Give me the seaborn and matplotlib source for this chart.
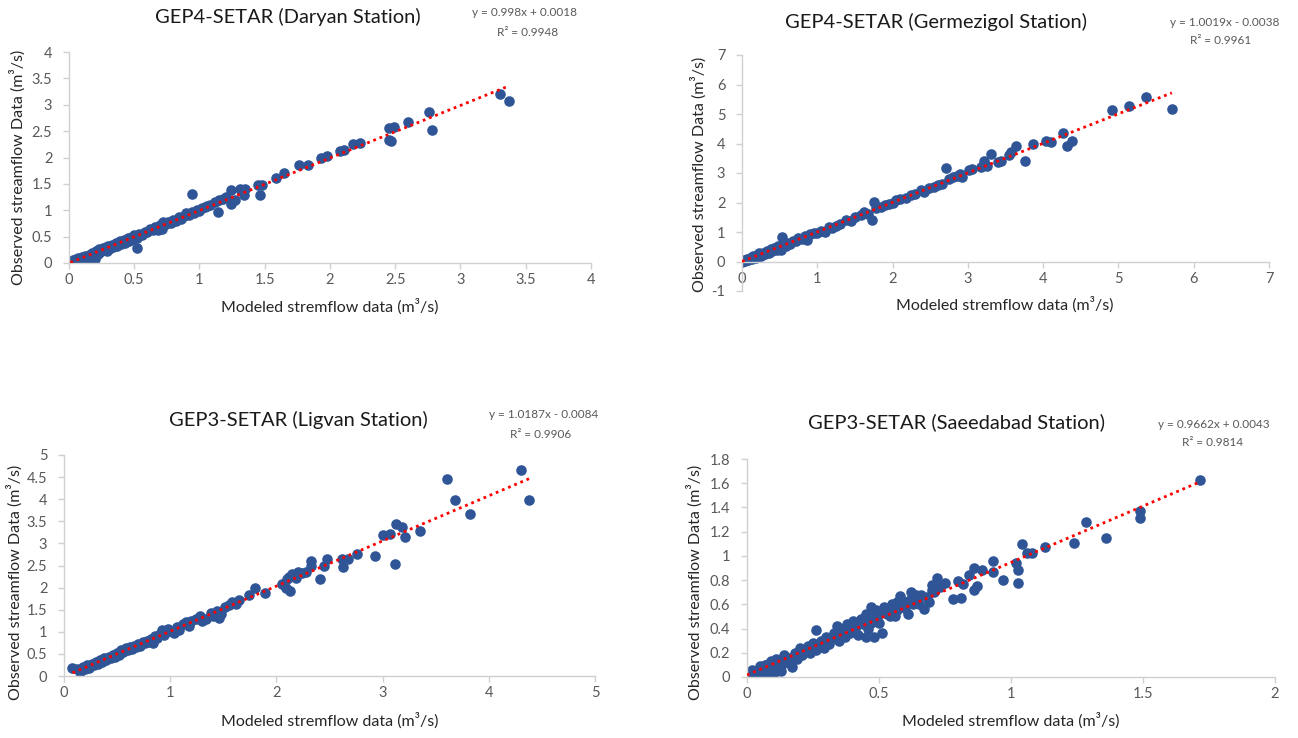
import pandas as pd
import matplotlib.pyplot as plt
import seaborn as sns
from matplotlib.ticker import FuncFormatter

daryan_modeled = [
    0.01, 0.02, 0.03, 0.04, 0.05, 0.06, 0.07, 0.08, 0.10, 0.11,
    0.12, 0.13, 0.15, 0.16, 0.17, 0.18, 0.19, 0.20, 0.21, 0.22,
    0.23, 0.24, 0.26, 0.27, 0.28, 0.29, 0.30, 0.31, 0.33, 0.34,
    0.36, 0.37, 0.39, 0.40, 0.42, 0.43, 0.45, 0.46, 0.48, 0.49,
    0.50, 0.52, 0.54, 0.56, 0.58, 0.60, 0.62, 0.64, 0.66, 0.68,
    0.70, 0.71, 0.72, 0.74, 0.76, 0.78, 0.80, 0.82, 0.84, 0.86,
    0.88, 0.90, 0.92, 0.94, 0.96, 0.98, 1.00, 1.02, 1.04, 1.06,
    1.08, 1.12, 1.15, 1.18, 1.20,
    0.52, 0.94, 1.14, 1.24, 1.24, 1.27, 1.31, 1.34, 1.35, 1.45,
    1.46, 1.48, 1.59, 1.65, 1.76, 1.83, 1.93, 1.98, 2.08, 2.11,
    2.18, 2.23, 2.45, 2.47, 2.45, 2.49, 2.60, 2.76, 2.78, 3.30,
    3.37]
daryan_observed = [
    0.02, 0.00, 0.05, 0.02, 0.08, 0.04, 0.10, 0.06, 0.12, 0.08,
    0.14, 0.10, 0.16, 0.12, 0.03, 0.19, 0.15, 0.08, 0.22, 0.18,
    0.26, 0.20, 0.28, 0.24, 0.30, 0.22, 0.33, 0.27, 0.34, 0.31,
    0.37, 0.33, 0.41, 0.36, 0.43, 0.38, 0.47, 0.42, 0.50, 0.45,
    0.53, 0.48, 0.55, 0.53, 0.59, 0.58, 0.64, 0.62, 0.68, 0.63,
    0.72, 0.64, 0.77, 0.74, 0.78, 0.76, 0.82, 0.80, 0.87, 0.84,
    0.90, 0.94, 0.91, 0.96, 0.95, 1.00, 0.98, 1.04, 1.06, 1.08,
    1.10, 1.15, 1.20, 1.22, 1.25,
    0.29, 1.30, 0.97, 1.38, 1.11, 1.20, 1.41, 1.28, 1.40, 1.48,
    1.29, 1.47, 1.62, 1.71, 1.86, 1.86, 2.00, 2.02, 2.12, 2.15,
    2.26, 2.28, 2.55, 2.31, 2.33, 2.57, 2.67, 2.87, 2.53, 3.20,
    3.08]

germezigol_modeled = [
    0.00, 0.02, 0.04, 0.06, 0.08, 0.10, 0.13, 0.15, 0.18, 0.20,
    0.23, 0.25, 0.28, 0.30, 0.33, 0.36, 0.38, 0.40, 0.43, 0.46,
    0.48, 0.50, 0.52, 0.55, 0.58, 0.60, 0.64, 0.68, 0.72, 0.75,
    0.80, 0.84, 0.86, 0.90, 0.95, 1.00, 1.05, 1.10, 1.15, 1.20,
    1.25, 1.30, 1.38, 1.45, 1.50, 1.58, 1.62, 1.68, 1.78, 1.85,
    1.90, 1.95, 2.00, 2.05, 2.10, 2.18, 2.25, 2.30, 2.38, 2.42,
    2.48, 2.55, 2.60, 2.65,
    0.53, 1.73, 1.75, 2.71, 2.75, 2.80, 2.85, 2.90, 2.92, 3.01,
    3.05, 3.18, 3.22, 3.25, 3.31, 3.40, 3.44, 3.55, 3.57, 3.64,
    3.76, 3.87, 4.04, 4.10, 4.27, 4.32, 4.38, 4.92, 5.14, 5.36,
    5.71]
germezigol_observed = [
    0.00, 0.05, 0.02, 0.09, 0.04, 0.12, 0.08, 0.18, 0.13, 0.22,
    0.28, 0.20, 0.30, 0.25, 0.35, 0.30, 0.42, 0.36, 0.45, 0.40,
    0.52, 0.45, 0.38, 0.57, 0.52, 0.64, 0.60, 0.70, 0.68, 0.78,
    0.76, 0.88, 0.72, 0.92, 0.98, 0.96, 1.05, 1.00, 1.18, 1.15,
    1.22, 1.28, 1.40, 1.38, 1.52, 1.58, 1.68, 1.62, 1.80, 1.84,
    1.92, 1.96, 1.98, 2.08, 2.12, 2.15, 2.24, 2.30, 2.42, 2.34,
    2.50, 2.52, 2.58, 2.62,
    0.84, 1.39, 2.03, 3.18, 2.78, 2.85, 2.90, 2.95, 2.85, 3.10,
    3.12, 3.20, 3.40, 3.25, 3.65, 3.36, 3.42, 3.62, 3.70, 3.90,
    3.39, 4.00, 4.10, 4.05, 4.35, 3.90, 4.10, 5.12, 5.26, 5.59,
    5.16]

ligvan_modeled = [
    0.08, 0.12, 0.15, 0.18, 0.20, 0.22, 0.24, 0.26, 0.28, 0.30,
    0.32, 0.34, 0.36, 0.38, 0.40, 0.42, 0.44, 0.46, 0.48, 0.50,
    0.52, 0.54, 0.56, 0.58, 0.60, 0.62, 0.64, 0.66, 0.68, 0.70,
    0.72, 0.74, 0.76, 0.78, 0.80, 0.82, 0.84, 0.86, 0.88, 0.90,
    0.92, 0.94, 0.96, 0.98, 1.00, 1.04, 1.06, 1.08, 1.12, 1.15,
    1.18, 1.20, 1.24, 1.28, 1.30, 1.34, 1.38, 1.40, 1.44, 1.46,
    1.48, 1.52, 1.55, 1.58, 1.62, 1.65, 2.15, 2.18, 2.20, 2.24,
    2.28, 2.12, 2.10,
    1.74, 1.80, 1.89, 2.05, 2.09, 2.13, 2.33, 2.33, 2.41, 2.45,
    2.48, 2.62, 2.63, 2.67, 2.76, 2.93, 3.00, 3.07, 3.12, 3.13,
    3.18, 3.21, 3.35, 3.61, 3.68, 3.82, 4.30, 4.38]
ligvan_observed = [
    0.19, 0.15, 0.10, 0.20, 0.16, 0.24, 0.18, 0.28, 0.24, 0.32,
    0.27, 0.36, 0.32, 0.40, 0.36, 0.44, 0.40, 0.48, 0.44, 0.52,
    0.48, 0.58, 0.54, 0.63, 0.58, 0.66, 0.62, 0.68, 0.66, 0.72,
    0.68, 0.78, 0.74, 0.80, 0.76, 0.84, 0.74, 0.90, 0.86, 0.96,
    1.04, 0.92, 1.00, 1.06, 1.02, 0.98, 1.10, 1.04, 1.18, 1.22,
    1.14, 1.24, 1.30, 1.35, 1.25, 1.30, 1.42, 1.35, 1.48, 1.32,
    1.40, 1.55, 1.60, 1.68, 1.64, 1.72, 2.30, 2.22, 2.36, 2.32,
    2.35, 2.25, 2.20,
    1.84, 1.98, 1.88, 2.08, 1.98, 1.93, 2.61, 2.50, 2.20, 2.50,
    2.65, 2.65, 2.47, 2.64, 2.76, 2.71, 3.18, 3.21, 2.54, 3.44,
    3.38, 3.14, 3.27, 4.46, 3.99, 3.66, 4.65, 3.99]

saeedabad_modeled = [
    0.00, 0.01, 0.02, 0.02, 0.03, 0.04, 0.05, 0.05, 0.06, 0.07,
    0.08, 0.09, 0.10, 0.10, 0.11, 0.12, 0.13, 0.14, 0.15, 0.17,
    0.18, 0.19, 0.20, 0.21, 0.23, 0.24, 0.25, 0.26, 0.26, 0.28,
    0.29, 0.30, 0.31, 0.33, 0.34, 0.35, 0.36, 0.37, 0.38, 0.39,
    0.40, 0.41, 0.42, 0.43, 0.44, 0.45, 0.45, 0.46, 0.47, 0.48,
    0.48, 0.49, 0.50, 0.51, 0.52, 0.53, 0.55, 0.56, 0.57, 0.58,
    0.59, 0.60, 0.61, 0.62, 0.63, 0.64, 0.66, 0.67, 0.69, 0.70,
    0.70,
    0.01, 0.03, 0.04, 0.06, 0.07, 0.08, 0.09, 0.11, 0.12, 0.13,
    0.14, 0.16, 0.17, 0.19, 0.22, 0.27, 0.30, 0.32, 0.34, 0.36,
    0.38, 0.40, 0.42, 0.44, 0.46, 0.47, 0.50, 0.52, 0.54, 0.55,
    0.57, 0.59, 0.60, 0.62, 0.64, 0.65, 0.68, 0.71, 0.73,
    0.72, 0.75, 0.78, 0.80, 0.81, 0.82, 0.84, 0.86, 0.86, 0.87,
    0.89, 0.93, 0.93, 0.97, 1.02, 1.025, 1.025, 1.04, 1.06, 1.08,
    1.13, 1.24, 1.285, 1.36, 1.49, 1.49, 1.715]
saeedabad_observed = [
    0.00, 0.03, 0.01, 0.06, 0.02, 0.05, 0.00, 0.09, 0.04, 0.10,
    0.06, 0.13, 0.08, 0.02, 0.15, 0.10, 0.05, 0.18, 0.12, 0.08,
    0.20, 0.15, 0.24, 0.18, 0.26, 0.20, 0.28, 0.39, 0.22, 0.30,
    0.24, 0.33, 0.27, 0.36, 0.42, 0.30, 0.38, 0.33, 0.44, 0.36,
    0.46, 0.40, 0.35, 0.48, 0.44, 0.52, 0.33, 0.40, 0.58, 0.48,
    0.33, 0.55, 0.45, 0.36, 0.58, 0.52, 0.60, 0.50, 0.55, 0.67,
    0.58, 0.62, 0.52, 0.70, 0.60, 0.65, 0.68, 0.56, 0.62, 0.72,
    0.76,
    0.00, 0.04, 0.01, 0.07, 0.03, 0.11, 0.02, 0.08, 0.14, 0.09,
    0.12, 0.16, 0.13, 0.19, 0.21, 0.25, 0.29, 0.31, 0.35, 0.40,
    0.37, 0.42, 0.44, 0.47, 0.50, 0.45, 0.52, 0.55, 0.50, 0.57,
    0.62, 0.63, 0.57, 0.64, 0.68, 0.60, 0.66, 0.70, 0.74,
    0.82, 0.78, 0.64, 0.79, 0.65, 0.77, 0.84, 0.90, 0.72, 0.75,
    0.88, 0.96, 0.87, 0.80, 0.94, 0.88, 0.78, 1.10, 1.02, 1.02,
    1.07, 1.11, 1.28, 1.15, 1.37, 1.31, 1.63]

# Títulos, equações e escalas de cada painel
titulos = ["GEP4-SETAR (Daryan Station)", "GEP4-SETAR (Germezigol Station)",
           "GEP3-SETAR (Ligvan Station)", "GEP3-SETAR (Saeedabad Station)"]
equacoes = ["y = 0.998x + 0.0018", "y = 1.0019x - 0.0038",
            "y = 1.0187x - 0.0084", "y = 0.9662x + 0.0043"]
r2 = ["R² = 0.9948", "R² = 0.9961", "R² = 0.9906", "R² = 0.9814"]
xticks = [[0, 0.5, 1, 1.5, 2, 2.5, 3, 3.5, 4],
          [0, 1, 2, 3, 4, 5, 6, 7],
          [0, 1, 2, 3, 4, 5],
          [0, 0.5, 1, 1.5, 2]]
yticks = [[0, 0.5, 1, 1.5, 2, 2.5, 3, 3.5, 4],
          [-1, 0, 1, 2, 3, 4, 5, 6, 7],
          [0, 0.5, 1, 1.5, 2, 2.5, 3, 3.5, 4, 4.5, 5],
          [0, 0.2, 0.4, 0.6, 0.8, 1, 1.2, 1.4, 1.6, 1.8]]

dados = [(daryan_modeled, daryan_observed),
         (germezigol_modeled, germezigol_observed),
         (ligvan_modeled, ligvan_observed),
         (saeedabad_modeled, saeedabad_observed)]

sns.set_style("ticks")
plt.rcParams["font.family"] = ["Lato", "DejaVu Sans"]

W, H = 1298, 738
fig = plt.figure(figsize=(W / 100, H / 100), dpi=100)

# posições em pixels: esquerda, topo, direita, base do eixo
caixas = [(69, 52, 591, 263), (742, 55, 1269, 291),
          (64, 455, 595, 676), (747, 459, 1275, 677)]
pos_titulo = [(288, 17), (936, 22), (298, 420), (957, 422)]
pos_eq = [(524, 13), (1225, 22), (544, 415), (1214, 424)]
pos_r2 = [(528, 32), (1221, 41), (541, 434), (1213, 443)]
pos_ylabel = [(18, 167), (699, 174), (15, 582), (695, 582)]
pos_xlabel = [(330, 307), (1005, 305), (330, 721), (1011, 721)]

azul = "#2f5597"
cinza = "#d0d0d0"
fmt = FuncFormatter(lambda v, p: f"{v:g}")

for i, (mx, ob) in enumerate(dados):
    l, t, r, b = caixas[i]
    ax = fig.add_axes([l / W, 1 - b / H, (r - l) / W, (b - t) / H])
    df = pd.DataFrame({"mod": mx, "obs": ob})
    sns.scatterplot(data=df, x="mod", y="obs", ax=ax, s=58, color=azul,
                    edgecolor=azul, linewidth=0, zorder=2)
    sns.regplot(data=df, x="mod", y="obs", ax=ax, scatter=False, ci=None,
                truncate=True,
                line_kws=dict(color="#ff0000", lw=2, ls=(0, (1, 1.4)), zorder=3))
    ax.set_xlim(xticks[i][0], xticks[i][-1])
    ax.set_ylim(yticks[i][0], yticks[i][-1])
    ax.set_xticks(xticks[i])
    ax.set_yticks(yticks[i])
    ax.xaxis.set_major_formatter(fmt)
    ax.yaxis.set_major_formatter(fmt)
    ax.set_xlabel("")
    ax.set_ylabel("")
    sns.despine(ax=ax)
    for s in ["left", "bottom"]:
        ax.spines[s].set_color(cinza)
        ax.spines[s].set_linewidth(1)
    if yticks[i][0] < 0:
        ax.spines["bottom"].set_position(("data", 0))
    ax.tick_params(colors=cinza, labelcolor="#595959", labelsize=10.5,
                   length=4, width=1)
    ax.tick_params(axis="y", pad=8)

    fig.text(pos_titulo[i][0] / W, 1 - pos_titulo[i][1] / H, titulos[i],
             ha="center", va="center", fontsize=14.5, color="#1a1a1a")
    fig.text(pos_eq[i][0] / W, 1 - pos_eq[i][1] / H, equacoes[i],
             ha="center", va="center", fontsize=8.5, color="#595959")
    fig.text(pos_r2[i][0] / W, 1 - pos_r2[i][1] / H, r2[i],
             ha="center", va="center", fontsize=8.5, color="#595959")
    fig.text(pos_ylabel[i][0] / W, 1 - pos_ylabel[i][1] / H,
             "Observed streamflow Data (m³/s)", rotation=90,
             ha="center", va="center", fontsize=11.5, color="#262626")
    fig.text(pos_xlabel[i][0] / W, 1 - pos_xlabel[i][1] / H,
             "Modeled stremflow data (m³/s)",
             ha="center", va="center", fontsize=11.5, color="#262626")

fig.savefig("out.png", dpi=100)
